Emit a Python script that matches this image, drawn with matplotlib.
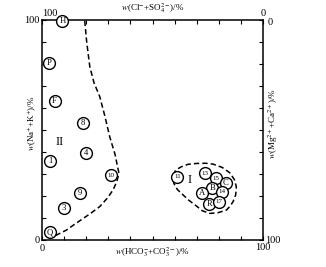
import numpy as np
import matplotlib.pyplot as plt

plt.rcParams['font.family'] = ['Liberation Serif', 'DejaVu Serif']
plt.rcParams['mathtext.fontset'] = 'stix'

# sample points: label, w(HCO3+CO3) %, w(Na+K) %
labels = ['H', 'P', 'F', '8', '4', '1', '10', '9', '3', 'Q',
          '11', '13', '15', 'C', 'B', 'A', '14', 'R', '17']
x_vals = [9.2, 3.2, 5.7, 18.6, 19.8, 3.8, 31.1, 17.0, 9.8, 3.5,
          61.2, 73.6, 78.6, 83.0, 77.1, 72.5, 81.6, 75.6, 80.1]
y_vals = [99.7, 80.3, 63.3, 53.3, 39.7, 35.8, 29.5, 21.5, 14.4, 3.5,
          28.8, 30.3, 28.0, 26.1, 23.5, 21.5, 22.0, 16.4, 17.4]

# zone II boundary (open dashed line)
zone2_x = [19.3, 20.2, 21.6, 23.5, 26.1, 28.5, 30.6, 33.0, 34.8, 33.8, 32.1, 29.5, 26.1, 22.5, 18.6, 14.5, 11.0, 7.0, 3.5]
zone2_y = [99.7, 90.0, 78.8, 71.5, 65.2, 56.0, 47.0, 39.0, 30.3, 26.5, 22.7, 19.0, 15.2, 12.5, 9.8, 7.0, 4.5, 2.5, 0.8]

# zone I boundary (closed dashed loop)
zone1_x = [59.3, 60.5, 63.0, 66.0, 69.8, 74.0, 77.4, 81.5, 84.9, 87.0, 87.9, 87.6, 86.4, 85.0, 83.4, 79.5, 75.9, 72.5, 69.8, 66.5, 63.8, 61.2, 59.6, 59.3]
zone1_y = [29.5, 31.8, 33.3, 34.4, 34.8, 34.9, 34.5, 33.0, 30.6, 27.5, 24.2, 20.5, 17.4, 15.3, 13.6, 12.4, 12.1, 13.3, 15.5, 18.0, 20.5, 23.0, 25.8, 29.5]

fig = plt.figure(figsize=(3.26, 2.67), dpi=100)
ax = fig.add_axes([0.129, 0.101, 0.678, 0.824])
ax.set_xlim(0, 100)
ax.set_ylim(0, 100)

ax.plot(zone2_x, zone2_y, ls=(0, (3.5, 2)), color='black', lw=1.1)
ax.plot(zone1_x, zone1_y, ls=(0, (3.5, 2)), color='black', lw=1.1)

for lab, x, y in zip(labels, x_vals, y_vals):
    ax.plot(x, y, 'o', ms=8.5, mfc='white', mec='black', mew=1.0, clip_on=False, zorder=3)
    fs = 5 if len(lab) > 1 else 6.2
    ax.text(x, y, lab, ha='center', va='center', fontsize=fs, zorder=4)

ax.text(8, 44.7, 'II', ha='center', va='center', fontsize=9)
ax.text(66.8, 27.3, 'I', ha='center', va='center', fontsize=9)

ticks = np.arange(0, 101, 10)
ax.set_xticks(ticks)
ax.set_yticks(ticks)
ax.tick_params(direction='in', length=3, width=0.8, labelbottom=False, labelleft=False,
               top=True, right=True)
for s in ax.spines.values():
    s.set_linewidth(1.1)

# corner scale labels
fs = 7.5
ax.text(0, 101, '100', ha='left', va='bottom', fontsize=fs)
ax.text(-1, 100, '100', ha='right', va='center', fontsize=fs)
ax.text(-1, 0, '0', ha='right', va='center', fontsize=fs)
ax.text(0, -2, '0', ha='center', va='top', fontsize=fs)
ax.text(100, -1.5, '100', ha='center', va='top', fontsize=fs)
ax.text(101, 0, '100', ha='left', va='center', fontsize=fs)
ax.text(100, 101, '0', ha='center', va='bottom', fontsize=fs)
ax.text(102, 99, '0', ha='left', va='center', fontsize=fs)

ax.text(50, 105.5, r'$w$(Cl$^{-}$+SO$_4^{2-}$)/%', ha='center', va='center', fontsize=6.5)
ax.text(50, -5.5, r'$w$(HCO$_3^{-}$+CO$_3^{2-}$)/%', ha='center', va='center', fontsize=6.5)
ax.text(-4.5, 53, r'$w$(Na$^{+}$+K$^{+}$)/%', ha='center', va='center', rotation=90, fontsize=6.5)
ax.text(104.8, 53, r'$w$(Mg$^{2+}$+Ca$^{2+}$)/%', ha='center', va='center', rotation=90, fontsize=6.5)

fig.savefig('out.png', dpi=100)
